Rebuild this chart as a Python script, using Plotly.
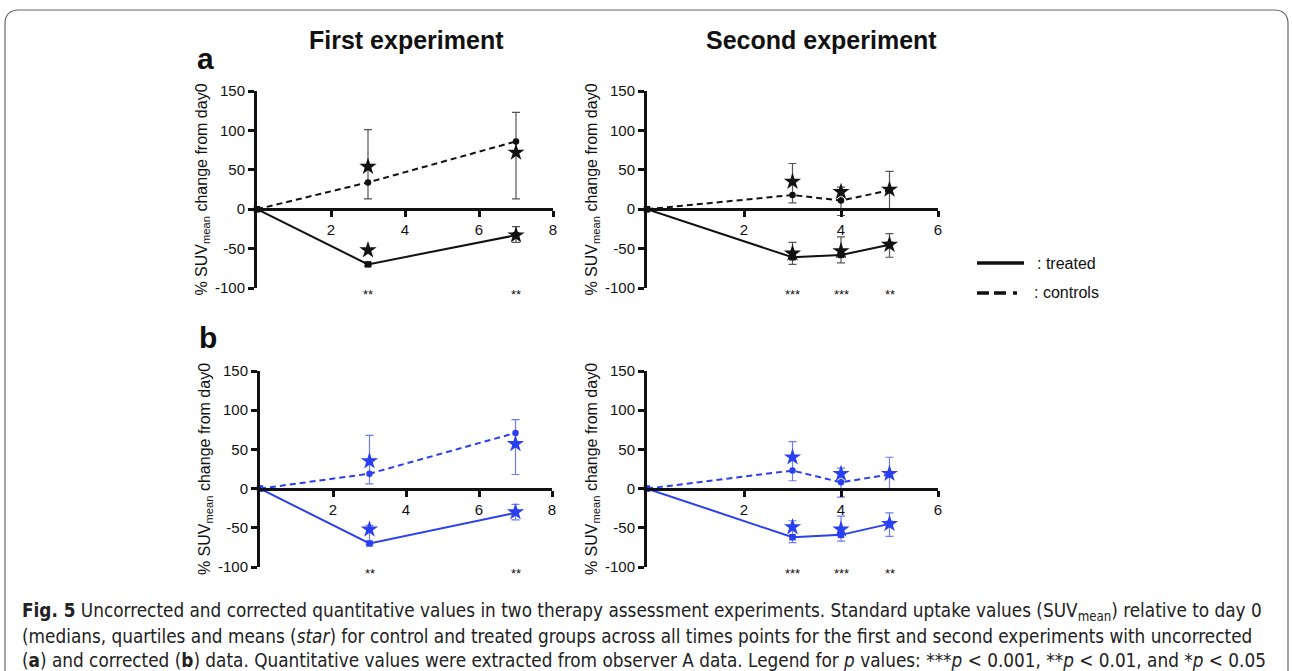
import plotly.graph_objects as go

W, H = 1292, 671

# ---------------- data ----------------
days_exp1 = [0, 3, 7]
days_exp2 = [0, 3, 4, 5]

# uncorrected (a)
a1_ctrl_med = [0, 34, 86]
a1_ctrl_q1 = [0, 13, 13]
a1_ctrl_q3 = [0, 101, 123]
a1_ctrl_mean = [None, 54, 72]
a1_trt_med = [0, -70, -33]
a1_trt_q1 = [0, -72, -42]
a1_trt_q3 = [0, -68, -22]
a1_trt_mean = [None, -52, -33]

a2_ctrl_med = [0, 18, 11, 24]
a2_ctrl_q1 = [0, 8, -8, 0]
a2_ctrl_q3 = [0, 58, 28, 48]
a2_ctrl_mean = [None, 35, 22, 25]
a2_trt_med = [0, -61, -58, -45]
a2_trt_q1 = [0, -70, -68, -61]
a2_trt_q3 = [0, -42, -35, -31]
a2_trt_mean = [None, -56, -53, -45]

# corrected (b)
b1_ctrl_med = [0, 19, 71]
b1_ctrl_q1 = [0, 6, 18]
b1_ctrl_q3 = [0, 68, 88]
b1_ctrl_mean = [None, 35, 57]
b1_trt_med = [0, -70, -31]
b1_trt_q1 = [0, -71, -40]
b1_trt_q3 = [0, -47, -20]
b1_trt_mean = [None, -52, -30]

b2_ctrl_med = [0, 23, 8, 18]
b2_ctrl_q1 = [0, 10, -11, -2]
b2_ctrl_q3 = [0, 60, 26, 40]
b2_ctrl_mean = [None, 40, 19, 19]
b2_trt_med = [0, -62, -59, -45]
b2_trt_q1 = [0, -69, -67, -61]
b2_trt_q3 = [0, -41, -35, -31]
b2_trt_mean = [None, -49, -52, -45]

sig_days_exp1 = [3, 7]
sig_exp1 = ["**", "**"]
sig_days_exp2 = [3, 4, 5]
sig_exp2 = ["***", "***", "**"]

y_tickvals = [-100, -50, 0, 50, 100, 150]
y_ticktext = ["-100", "-50", "0", "50", "100", "150"]
x_tickvals_exp1 = [2, 4, 6, 8]
x_tickvals_exp2 = [2, 4, 6]

BLACK = "#111111"
BLUE = "#2a3ff2"
ERR_BLACK = "#555555"
ERR_BLUE = "#6c7ef5"

FONT = "Liberation Sans, Arial, sans-serif"


def px_x(p):
    return p / W


def px_y(p):
    return 1 - p / H


fig = go.Figure()

# panel geometry (pixels)
panels = [
    dict(xl=257, xr=553, yt=91, yb=288, xmax=8, xt=x_tickvals_exp1),
    dict(xl=647, xr=938, yt=91, yb=288, xmax=6, xt=x_tickvals_exp2),
    dict(xl=260, xr=552, yt=371, yb=567, xmax=8, xt=x_tickvals_exp1),
    dict(xl=647, xr=938, yt=371, yb=567, xmax=6, xt=x_tickvals_exp2),
]

series = [
    (days_exp1, a1_ctrl_med, a1_ctrl_q1, a1_ctrl_q3, a1_ctrl_mean,
     a1_trt_med, a1_trt_q1, a1_trt_q3, a1_trt_mean, BLACK, ERR_BLACK, sig_days_exp1, sig_exp1),
    (days_exp2, a2_ctrl_med, a2_ctrl_q1, a2_ctrl_q3, a2_ctrl_mean,
     a2_trt_med, a2_trt_q1, a2_trt_q3, a2_trt_mean, BLACK, ERR_BLACK, sig_days_exp2, sig_exp2),
    (days_exp1, b1_ctrl_med, b1_ctrl_q1, b1_ctrl_q3, b1_ctrl_mean,
     b1_trt_med, b1_trt_q1, b1_trt_q3, b1_trt_mean, BLUE, ERR_BLUE, sig_days_exp1, sig_exp1),
    (days_exp2, b2_ctrl_med, b2_ctrl_q1, b2_ctrl_q3, b2_ctrl_mean,
     b2_trt_med, b2_trt_q1, b2_trt_q3, b2_trt_mean, BLUE, ERR_BLUE, sig_days_exp2, sig_exp2),
]

annotations = []
layout_axes = {}

for i, (p, s) in enumerate(zip(panels, series)):
    idx = "" if i == 0 else str(i + 1)
    xa, ya = "x" + idx, "y" + idx
    (days, c_med, c_q1, c_q3, c_mean, t_med, t_q1, t_q3, t_mean,
     col, ecol, sdays, stext) = s

    for med, q1, q3, mean, dash, sym in [
        (c_med, c_q1, c_q3, c_mean, "6px,4px", "circle"),
        (t_med, t_q1, t_q3, t_mean, "solid", "square"),
    ]:
        plus = [b - a for a, b in zip(med, q3)]
        minus = [a - b for a, b in zip(med, q1)]
        fig.add_trace(go.Scatter(
            x=days, y=med, xaxis=xa, yaxis=ya, mode="lines+markers",
            line=dict(color=col, width=2, dash=dash),
            marker=dict(color=col, size=6.5, symbol=sym),
            error_y=dict(type="data", array=plus, arrayminus=minus,
                         color=ecol, thickness=1.2, width=4),
            cliponaxis=False, showlegend=False, hoverinfo="skip"))
        fig.add_trace(go.Scatter(
            x=days, y=mean, xaxis=xa, yaxis=ya, mode="markers",
            marker=dict(color=col, size=13, symbol="star",
                        line=dict(width=0)),
            cliponaxis=False, showlegend=False, hoverinfo="skip"))

    ydom = [px_y(p["yb"]), px_y(p["yt"])]
    zero_pos = ydom[0] + (ydom[1] - ydom[0]) * (100 / 250)
    layout_axes["xaxis" + idx] = dict(
        domain=[px_x(p["xl"]), px_x(p["xr"])], range=[0, p["xmax"]],
        anchor="free", position=zero_pos, automargin=False,
        showline=True, linecolor=BLACK, linewidth=3,
        ticks="outside", ticklen=6, tickwidth=2.5, tickcolor=BLACK,
        tickvals=p["xt"], ticktext=[str(v) for v in p["xt"]],
        tickfont=dict(family=FONT, size=15, color=BLACK),
        showgrid=False, zeroline=False, fixedrange=True)
    layout_axes["yaxis" + idx] = dict(
        domain=ydom, range=[-100, 150], anchor=xa, automargin=False,
        showline=True, linecolor=BLACK, linewidth=3,
        ticks="outside", ticklen=6, tickwidth=2.5, tickcolor=BLACK,
        tickvals=y_tickvals, ticktext=y_ticktext,
        tickfont=dict(family=FONT, size=15, color=BLACK),
        title=dict(text="% SUV<sub>mean</sub> change from day0",
                   font=dict(family=FONT, size=16, color=BLACK), standoff=4),
        showgrid=False, zeroline=False, fixedrange=True)

    for d, t in zip(sdays, stext):
        annotations.append(dict(
            x=d, y=-100, xref=xa, yref=ya, text=t, showarrow=False,
            xanchor="center", yanchor="middle",
            yshift=-6, font=dict(family=FONT, size=13, color=BLACK)))

# titles, panel letters, legend text
extra = [
    dict(x=px_x(407), y=px_y(40), text="<b>First experiment</b>",
         font=dict(family=FONT, size=25, color=BLACK)),
    dict(x=px_x(821), y=px_y(40), text="<b>Second experiment</b>",
         font=dict(family=FONT, size=25, color=BLACK)),
    dict(x=px_x(205), y=px_y(58), text="<b>a</b>",
         font=dict(family=FONT, size=30, color=BLACK)),
    dict(x=px_x(208), y=px_y(337), text="<b>b</b>",
         font=dict(family=FONT, size=30, color=BLACK)),
    dict(x=px_x(1035), y=px_y(263), text=": treated", xanchor="left",
         font=dict(family=FONT, size=16, color=BLACK)),
    dict(x=px_x(1032), y=px_y(293), text=": controls", xanchor="left",
         font=dict(family=FONT, size=16, color=BLACK)),
]
for a in extra:
    a.setdefault("xref", "paper")
    a.setdefault("yref", "paper")
    a.setdefault("xanchor", "center")
    a.setdefault("yanchor", "middle")
    a.setdefault("showarrow", False)
annotations += extra

CAP_FONT = "DejaVu Sans Condensed, Liberation Sans Narrow, sans-serif"
cap_lines = [
    "<b>Fig. 5</b> Uncorrected and corrected quantitative values in two therapy assessment experiments. "
    "Standard uptake values (SUV<sub>mean</sub>) relative to day 0",
    "(medians, quartiles and means (<i>star</i>) for control and treated groups across all times points "
    "for the first and second experiments with uncorrected",
    "(<b>a</b>) and corrected (<b>b</b>) data. Quantitative values were extracted from observer A data. "
    "Legend for <i>p</i> values: ***<i>p</i> &lt; 0.001, **<i>p</i> &lt; 0.01, and *<i>p</i> &lt; 0.05",
]
for k, line in enumerate(cap_lines):
    annotations.append(dict(
        x=px_x(20), y=px_y(612 + 24 * k), xref="paper", yref="paper", text=line,
        xanchor="left", yanchor="middle", showarrow=False,
        font=dict(family=CAP_FONT, size=18.8, color="#222222")))

shapes = [
    # legend samples
    dict(type="line", xref="paper", yref="paper", x0=px_x(977), x1=px_x(1024),
         y0=px_y(263), y1=px_y(263), line=dict(color=BLACK, width=3.5)),
    dict(type="line", xref="paper", yref="paper", x0=px_x(977), x1=px_x(1021),
         y0=px_y(293), y1=px_y(293),
         line=dict(color=BLACK, width=3.5, dash="12px,5px,12px,7px,4px,20px")),
    # rounded frame
    dict(type="path", xref="paper", yref="paper",
         path=(f"M {px_x(5)},{px_y(675)} L {px_x(5)},{px_y(24)} "
               f"Q {px_x(5)},{px_y(10)} {px_x(19)},{px_y(10)} "
               f"L {px_x(1274)},{px_y(10)} Q {px_x(1288)},{px_y(10)} {px_x(1288)},{px_y(24)} "
               f"L {px_x(1288)},{px_y(675)}"),
         line=dict(color="#666666", width=1.2)),
]

fig.update_layout(
    width=W, height=H, margin=dict(l=0, r=0, t=0, b=0, pad=0, autoexpand=False),
    paper_bgcolor="white", plot_bgcolor="rgba(0,0,0,0)",
    annotations=annotations, shapes=shapes, showlegend=False,
    **layout_axes)

fig.write_html("out.html", config={"displayModeBar": False})
